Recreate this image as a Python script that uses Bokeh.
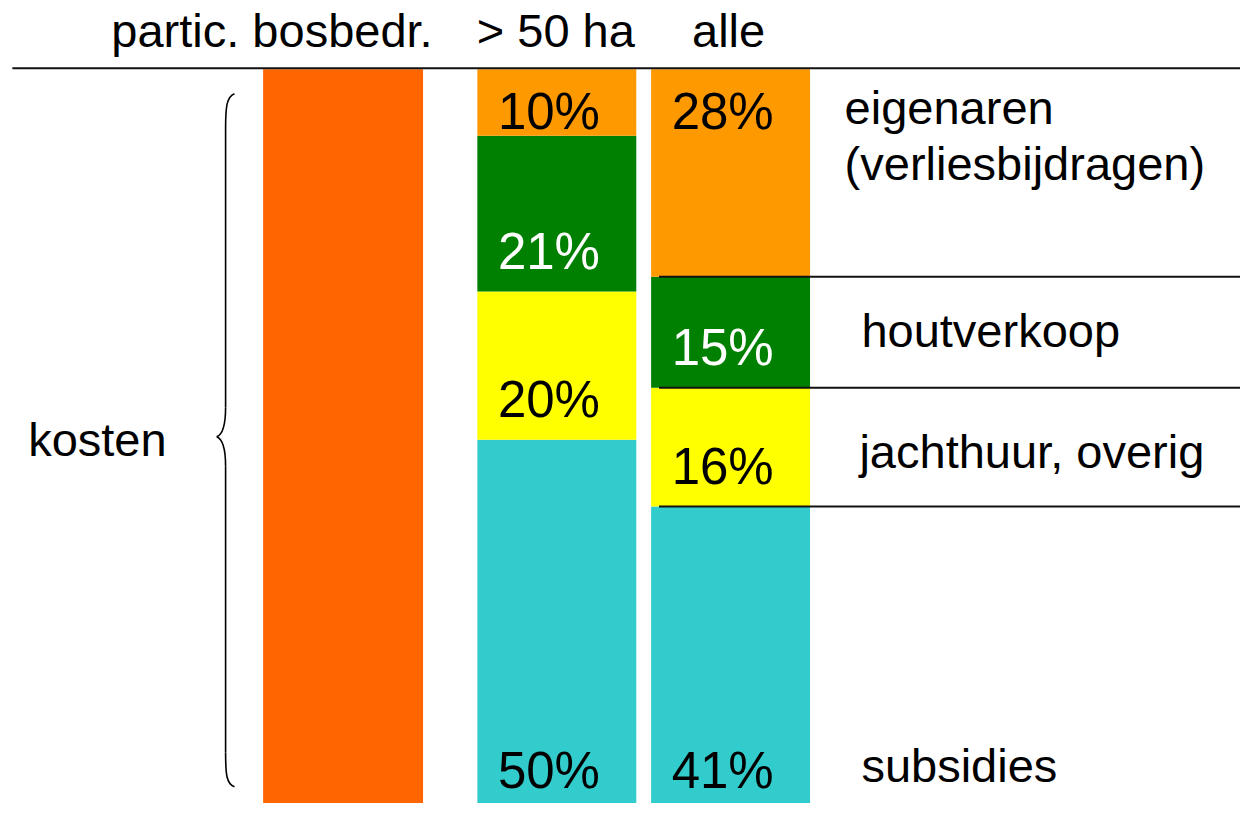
import numpy as np
from bokeh.plotting import figure
from bokeh.models import ColumnDataSource, Range1d
from bokeh.core.properties import value
from bokeh.embed import file_html
from bokeh.resources import INLINE

# ---------------- data ----------------
categories = ["partic. bosbedr.", "> 50 ha", "alle"]
kosten_total = [100]
segment_names = ["subsidies", "jachthuur, overig", "houtverkoop", "eigenaren (verliesbijdragen)"]
share_50ha = [50, 20, 21, 10]
share_alle = [41, 16, 15, 28]
segment_colors = ["#33CCCC", "#FFFF00", "#008000", "#FF9900"]
label_colors = ["black", "black", "white", "black"]
side_labels = ["subsidies", "jachthuur, overig", "houtverkoop", "eigenaren", "(verliesbijdragen)"]
left_label = "kosten"

# ---------------- layout ----------------
W, H = 1240, 803           # canvas size
REF_W, REF_H = 1256, 819   # layout units
PX = 7.56                  # layout units per percent
BASE_PX = 826              # layout unit of 0 %
SCALE_Y = REF_H / H
def Y(px):
    return (BASE_PX - px) / PX

def baseline_fix(fs):
    # correction so that the alphabetic baseline lands where intended
    return 0.36 * fs * SCALE_Y / PX

FONT = value("Liberation Sans")
FS_PCT, FS_HDR, FS_LBL = 51, 47, 47
bar_x = [347, 563.5, 739.5]
bar_w = [162, 161, 161]

p = figure(width=W, height=H, x_range=Range1d(0, REF_W),
           y_range=Range1d(Y(REF_H), Y(0)), output_backend="svg",
           toolbar_location=None, x_axis_type=None, y_axis_type=None,
           min_border=0)
p.grid.visible = False
p.outline_line_color = None
p.background_fill_color = "white"
p.border_fill_color = "white"

# kosten bar
p.vbar(x=[bar_x[0]], width=bar_w[0], bottom=0, top=kosten_total,
       fill_color="#FF6600", line_color=None)

def stacked(xc, w, shares):
    shares = np.array(shares, dtype=float)
    tops = np.cumsum(shares)
    bottoms = tops - shares
    tops_c = np.minimum(tops, 100)
    src = ColumnDataSource(dict(x=[xc] * len(shares), bottom=bottoms, top=tops_c,
                                color=segment_colors))
    p.vbar(x="x", width=w, bottom="bottom", top="top", fill_color="color",
           line_color=None, source=src)
    fix = baseline_fix(FS_PCT)
    ly = [b + 22 / PX + fix for b in bottoms[:-1]] + [100 - 62 / PX + fix]
    lsrc = ColumnDataSource(dict(x=[xc - 8] * len(shares), y=ly,
                                 t=[f"{int(s)}%" for s in shares], c=label_colors))
    p.text(x="x", y="y", text="t", text_color="c", source=lsrc, text_font=FONT,
           text_font_size=f"{FS_PCT}px", text_align="center", text_baseline="alphabetic")
    return tops

stacked(bar_x[1], bar_w[1], share_50ha)
tops_alle = stacked(bar_x[2], bar_w[2], share_alle)

# separator lines to the right of "alle"
sep_y = list(tops_alle[:-1])
p.segment(x0=[667] * 3, x1=[1260] * 3, y0=sep_y, y1=sep_y, line_color="#111111",
          line_width=2)

# header line
p.segment(x0=[12], x1=[1260], y0=[Y(69)], y1=[Y(69)], line_color="#111111", line_width=2)

# headers
fh = baseline_fix(FS_HDR)
hsrc = ColumnDataSource(dict(x=[275, 562.5, 737.5], y=[Y(48) + fh] * 3, t=categories))
p.text(x="x", y="y", text="t", source=hsrc, text_font=FONT, text_font_size=f"{FS_HDR}px",
       text_align="center", text_baseline="alphabetic", text_color="black")

# side labels
fl = baseline_fix(FS_LBL)
ssrc = ColumnDataSource(dict(x=[872, 870, 872, 855, 855],
                             y=[Y(798) + fl, Y(477) + fl, Y(354) + fl, Y(126) + fl, Y(183) + fl],
                             t=side_labels))
p.text(x="x", y="y", text="t", source=ssrc, text_font=FONT, text_font_size=f"{FS_LBL}px",
       text_align="left", text_baseline="alphabetic", text_color="black")

p.text(x=[28], y=[Y(465) + fl], text=[left_label], text_font=FONT, text_font_size=f"{FS_LBL}px",
       text_align="left", text_baseline="alphabetic", text_color="black")

# curly brace
bx, tipx, endx = 228, 219, 237
top_px, tip_px, bot_px = 95, 445, 802
p.bezier(x0=[endx, bx, tipx, bx], y0=[Y(top_px), Y(tip_px - 30), Y(tip_px), Y(bot_px - 35)],
         x1=[bx, tipx, bx, endx], y1=[Y(top_px + 35), Y(tip_px), Y(tip_px + 30), Y(bot_px)],
         cx0=[229, bx, 224, bx], cy0=[Y(top_px + 3), Y(tip_px - 10), Y(tip_px + 2), Y(bot_px - 12)],
         cx1=[bx, 224, bx, 229], cy1=[Y(top_px + 14), Y(tip_px - 2), Y(tip_px + 10), Y(bot_px - 3)],
         line_color="black", line_width=1.6)
p.segment(x0=[bx, bx], x1=[bx, bx], y0=[Y(top_px + 35), Y(tip_px + 30)],
          y1=[Y(tip_px - 30), Y(bot_px - 35)], line_color="black", line_width=1.6)

open("out.html", "w").write(file_html(p, INLINE))
